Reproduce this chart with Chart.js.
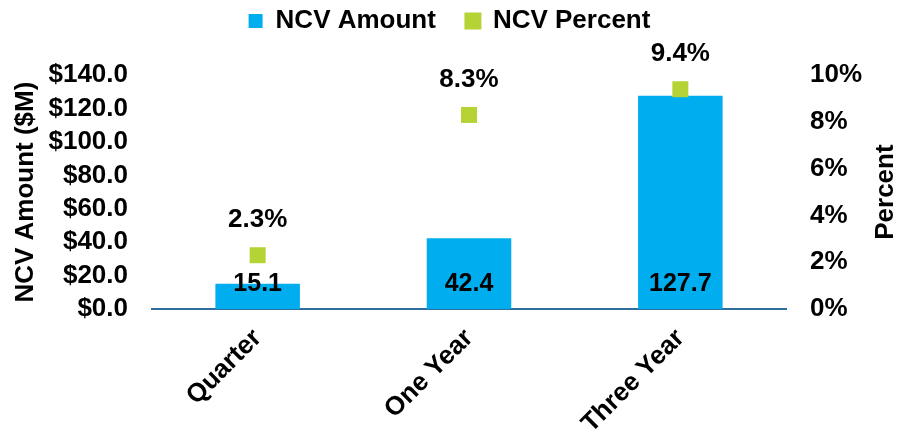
<!DOCTYPE html>
<html lang="en">
<head>
  <meta charset="UTF-8">
  <title>NCV Amount and Percent</title>
  <script src="https://cdn.jsdelivr.net/npm/chart.js"></script>
  <style>
    html, body {
      margin: 0;
      padding: 0;
      background: #ffffff;
    }
    #wrap {
      width: 899px;
      height: 440px;
    }
  </style>
</head>
<body>

<div id="wrap">
  <canvas id="myChart"></canvas>
</div>

<script>
  const categories = ['Quarter', 'One Year', 'Three Year'];
  const amountValues = [15.1, 42.4, 127.7];
  const percentValues = [2.3, 8.3, 9.4];
  const amountTicks = [0, 20, 40, 60, 80, 100, 120, 140];
  const percentTicks = [0, 2, 4, 6, 8, 10];

  const font = '"Liberation Sans", Arial, sans-serif';

  // value labels + right axis title (reads bottom to top, like the left one)
  const labelPlugin = {
    id: 'labels',
    afterDatasetsDraw(chart) {
      const ctx = chart.ctx;
      const base = chart.scales.y.getPixelForValue(0);
      ctx.save();
      ctx.fillStyle = '#000';
      ctx.textAlign = 'center';
      ctx.textBaseline = 'middle';

      ctx.font = 'bold 25px ' + font;
      chart.getDatasetMeta(0).data.forEach((el, i) => {
        ctx.fillText(amountValues[i].toFixed(1), el.x, base - 25);
      });
      ctx.font = 'bold 26px ' + font;
      chart.getDatasetMeta(1).data.forEach((el, i) => {
        ctx.fillText(percentValues[i].toFixed(1) + '%', el.x, el.y - 35);
      });

      const area = chart.chartArea;
      ctx.translate(886, (area.top + area.bottom) / 2);
      ctx.rotate(-Math.PI / 2);
      ctx.fillText('Percent', 0, 0);
      ctx.restore();
    }
  };

  const ctx = document.getElementById('myChart').getContext('2d');
  new Chart(ctx, {
    type: 'bar',
    data: {
      labels: categories,
      datasets: [{
        label: 'NCV Amount',
        data: amountValues,
        backgroundColor: '#00AEEF',
        yAxisID: 'y',
        categoryPercentage: 1,
        barPercentage: 0.4,
        order: 1
      }, {
        type: 'line',
        label: 'NCV Percent',
        data: percentValues,
        yAxisID: 'y1',
        showLine: false,
        pointStyle: 'rect',
        pointRadius: 11.3,
        pointHoverRadius: 11.3,
        pointBorderWidth: 0,
        backgroundColor: '#B5D334',
        borderColor: '#B5D334',
        clip: false,
        order: 0
      }]
    },
    options: {
      responsive: true,
      maintainAspectRatio: false,
      animation: false,
      layout: {
        padding: { left: 0, right: 0, top: -22, bottom: 0 }
      },
      plugins: {
        tooltip: { enabled: false },
        legend: {
          position: 'top',
          weight: 1000,
          labels: {
            color: '#000',
            font: { family: font, size: 26, weight: 'bold' },
            boxWidth: 14,
            boxHeight: 14,
            padding: 30,
            sort: (a, b) => a.datasetIndex - b.datasetIndex
          }
        },
        // empty title used as a spacer between legend and plot
        title: {
          display: true,
          text: ' ',
          position: 'top',
          weight: 500,
          font: { size: 1 },
          padding: { top: 30, bottom: 0 }
        }
      },
      scales: {
        x: {
          grid: { display: false },
          border: { display: true, color: '#2F6E9A', width: 2 },
          ticks: {
            color: '#000',
            font: { family: font, size: 26, weight: 'bold' },
            minRotation: 45,
            maxRotation: 45,
            padding: 6
          },
          afterFit(scale) { scale.height = 131; }
        },
        y: {
          position: 'left',
          min: 0,
          max: 140,
          afterBuildTicks(scale) {
            scale.ticks = amountTicks.map(v => ({ value: v }));
          },
          grid: { display: false },
          border: { display: false },
          ticks: {
            color: '#000',
            font: { family: font, size: 26, weight: 'bold' },
            padding: 16,
            autoSkip: false,
            callback: v => '$' + Number(v).toFixed(1)
          },
          title: {
            display: true,
            text: 'NCV Amount ($M)',
            color: '#000',
            font: { family: font, size: 26, weight: 'bold' },
            padding: { top: 10, bottom: 0 }
          },
          afterFit(scale) { scale.width = 152; }
        },
        y1: {
          position: 'right',
          min: 0,
          max: 10,
          afterBuildTicks(scale) {
            scale.ticks = percentTicks.map(v => ({ value: v }));
          },
          grid: { display: false },
          border: { display: false },
          ticks: {
            color: '#000',
            font: { family: font, size: 26, weight: 'bold' },
            padding: 16,
            autoSkip: false,
            callback: v => v + '%'
          },
          afterFit(scale) { scale.width = 113; }
        }
      }
    },
    plugins: [labelPlugin]
  });
</script>

</body>
</html>
